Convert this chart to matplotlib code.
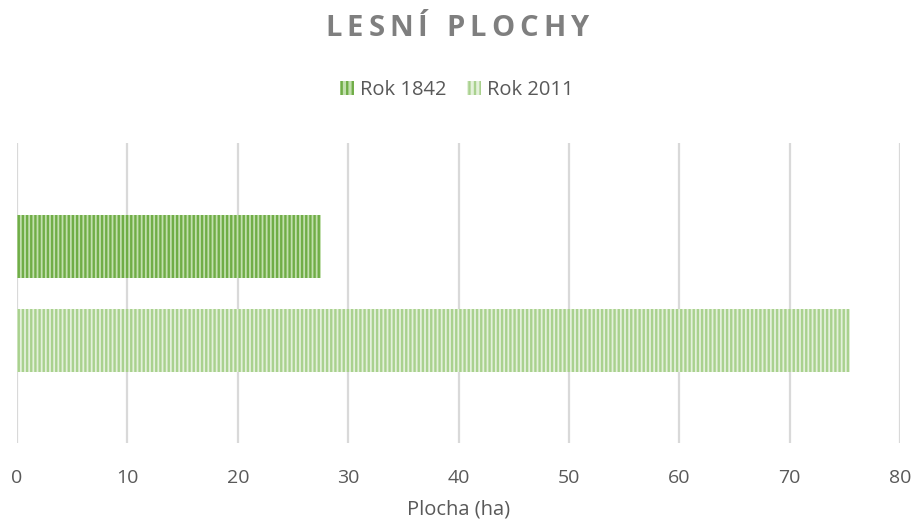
import matplotlib.pyplot as plt
from matplotlib.patches import Patch

# data
series = ["Rok 1842", "Rok 2011"]
values = [27.5, 75.5]          # ha
face_colors = ["#c2dfae", "#e4f1db"]
hatch_colors = ["#70ad47", "#a9d18e"]
x_ticks = [0, 10, 20, 30, 40, 50, 60, 70, 80]
title = "LESNÍ PLOCHY"

plt.rcParams['font.family'] = ['Open Sans', 'DejaVu Sans']
plt.rcParams['hatch.linewidth'] = 1.7

W, H = 914, 523
fig = plt.figure(figsize=(W / 100, H / 100), dpi=100)
ax = fig.add_axes([17 / W, (H - 443) / H, (900 - 17) / W, (443 - 143) / H])

ax.set_xlim(0, 80)
ax.set_ylim(1, 0)

# bar centres/height in axes fraction (top to bottom)
centres = [0.345, 0.657]
bar_h = 0.21
for c, v, fc, hc in zip(centres, values, face_colors, hatch_colors):
    ax.barh(c, v, height=bar_h, color=fc, edgecolor=hc, linewidth=0,
            hatch='||||', zorder=3)

ax.set_xticks(x_ticks)
ax.set_xticklabels([str(t) for t in x_ticks])
ax.set_yticks([])
ax.grid(axis='x', color='#d9d9d9', linewidth=1.6, zorder=0)
for s in ax.spines.values():
    s.set_visible(False)
ax.tick_params(axis='x', length=0, pad=19, labelsize=14, labelcolor='#595959')
ax.set_xlabel("Plocha (ha)", fontsize=14.5, color='#595959', labelpad=9)

# title with letter spacing: place each char, then centre the whole run
renderer = fig.canvas.get_renderer()
tracking = 5  # px extra between letters
items = []
x = 0
for ch in title:
    t = fig.text(0, 1 - 29 / H, ch, ha='left', va='center', fontsize=21,
                 fontweight='bold', color='#7f7f7f')
    w = t.get_window_extent(renderer).width
    if ch == ' ':
        w = 9
    items.append((t, x))
    x += w + tracking
total = x - tracking
start = (W - total) / 2
for t, off in items:
    t.set_x((start + off) / W)

handles = [Patch(facecolor=fc, edgecolor=hc, linewidth=0, hatch='|||')
           for fc, hc in zip(face_colors, hatch_colors)]
fig.legend(handles, series, loc='center', bbox_to_anchor=(0.5, 1 - 90 / H),
           ncol=2, frameon=False, fontsize=14.5, labelcolor='#595959',
           handlelength=0.7, handleheight=0.7, handletextpad=0.3,
           columnspacing=1.0)

fig.savefig("out.png", dpi=100)
